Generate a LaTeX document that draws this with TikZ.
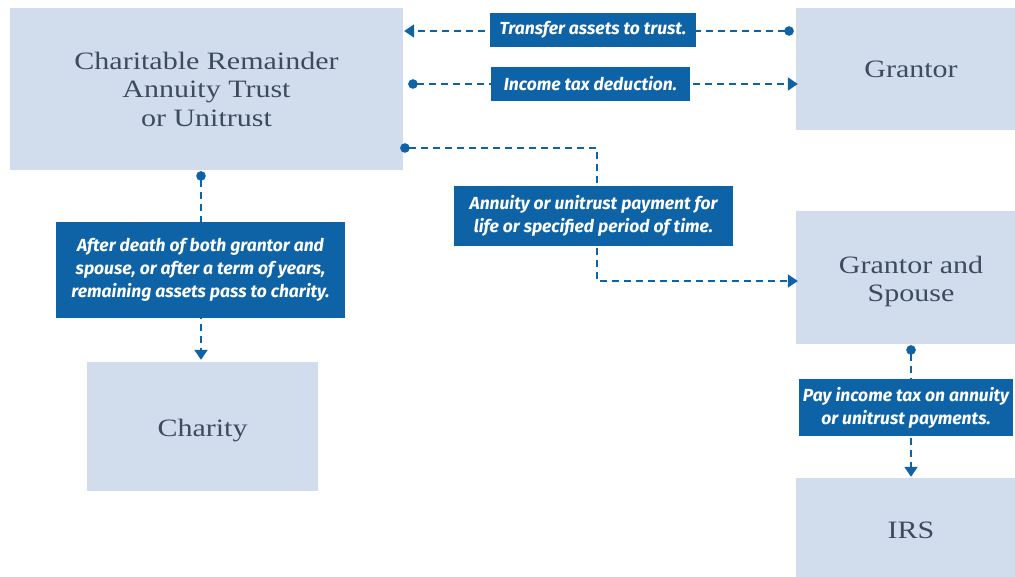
\documentclass[tikz,border=0pt]{standalone}
\usepackage{fontspec}
\usetikzlibrary{arrows.meta}
\newfontfamily\boxfont[FakeStretch=1.2]{Liberation Serif}
\newfontfamily\labfont{Fira Sans}
\definecolor{boxfill}{HTML}{D1DDEC}
\definecolor{labblue}{HTML}{0E63A7}
\definecolor{boxtext}{HTML}{3D4B5E}
\tikzset{
  boxtxt/.style={inner sep=0pt, align=center,
    text=boxtext, font=\boxfont\fontsize{25}{28.5}\selectfont},
  box/.style={fill=boxfill, draw=none, boxtxt},
  lab/.style={fill=labblue, draw=none, inner sep=0pt, align=center,
    text=white, font=\labfont\bfseries\itshape\fontsize{17.5}{23}\selectfont},
  conn/.style={draw=labblue, line width=1.9pt, dash pattern=on 7.5pt off 4.5pt},
  dotstart/.style={{Circle[length=9.5pt]}-{Triangle[length=10pt,width=13pt]}},
}
\begin{document}
\begin{tikzpicture}[x=1pt,y=-1pt]
\useasboundingbox (0,0) rectangle (1015,577);
\fill[white] (0,0) rectangle (1015,577);
% boxes
\node[box, minimum width=393pt, minimum height=162pt] (trust) at (206.5,89)
  {Charitable Remainder\\Annuity Trust\\or Unitrust};
\node[box, minimum width=230pt, minimum height=122pt] (grantor) at (911,69) {Grantor};
\node[box, minimum width=230pt, minimum height=133pt,
  label={[boxtxt, yshift=-4pt]center:Grantor and\\Spouse}] (gs) at (911,277.5) {};
\node[box, minimum width=230pt, minimum height=104pt] (irs) at (911,530) {IRS};
\node[box, minimum width=231pt, minimum height=129pt,
  label={[boxtxt, yshift=-4.5pt]center:Charity}] (charity) at (202.5,426.5) {};
% connection points
\coordinate (c1s) at ([xshift=-2pt]grantor.west |- 0,31);
\coordinate (c1e) at ([xshift=1pt]trust.east |- 0,31);
\coordinate (c2s) at ([xshift=5pt]trust.east |- 0,84);
\coordinate (c2e) at ([xshift=2pt]grantor.west |- 0,84);
\coordinate (c3s) at ([xshift=-3pt]trust.east |- 0,148);
\coordinate (c3e) at ([xshift=2pt]gs.west |- 0,281);
\coordinate (c4s) at ([yshift=-1pt]trust.south -| 201,0);
\coordinate (c4e) at ([yshift=2pt]charity.north -| 201,0);
% connectors
\draw[conn, dotstart] (c1s) -- (c1e);
\draw[conn, dotstart] (c2s) -- (c2e);
\draw[conn, dotstart] (c3s) -- (597,148) -- (597,281) -- (c3e);
\draw[conn, dotstart] (c4s) -- (c4e);
\draw[conn, dotstart] ([yshift=-1pt]gs.south) -- ([yshift=1pt]irs.north);
% labels
\node[lab, minimum width=206pt, minimum height=34pt] (l1) at (593,30) {Transfer assets to trust.};
\node[lab, minimum width=199pt, minimum height=34pt] (l2) at (590.5,84) {Income tax deduction.};
\node[lab, minimum width=279pt, minimum height=60pt] (l3) at (593.5,216)
  {Annuity or unitrust payment for\\life or specified period of time.};
\node[lab, minimum width=289pt, minimum height=96pt] (l4) at (200.5,270)
  {After death of both grantor and\\spouse, or after a term of years,\\remaining assets pass to charity.};
\node[lab, minimum width=214pt, minimum height=57pt] (l5) at (906,407.5)
  {Pay income tax on annuity\\or unitrust payments.};
\end{tikzpicture}
\end{document}
